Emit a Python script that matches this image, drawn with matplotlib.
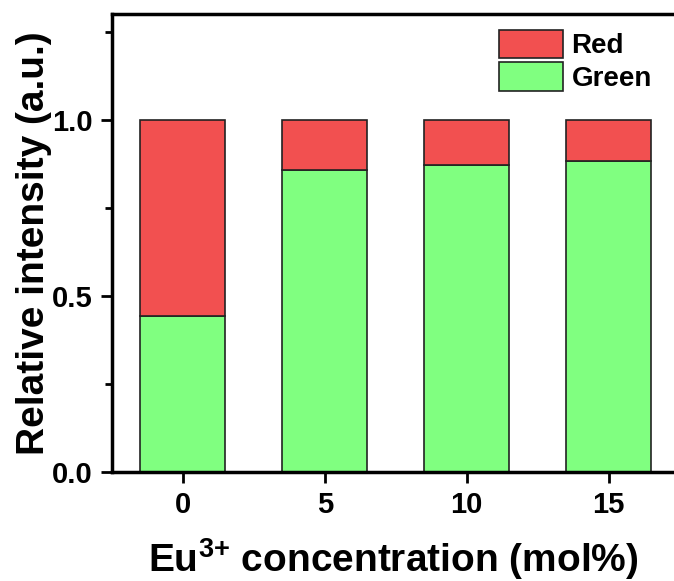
import matplotlib
matplotlib.use("Agg")
import matplotlib.pyplot as plt
from matplotlib.ticker import MultipleLocator

plt.rcParams['font.family'] = ['Liberation Sans', 'DejaVu Sans']
plt.rcParams['font.weight'] = 'bold'
plt.rcParams['mathtext.fontset'] = 'custom'
plt.rcParams['mathtext.rm'] = 'Liberation Sans:bold'
plt.rcParams['mathtext.bf'] = 'Liberation Sans:bold'
plt.rcParams['mathtext.default'] = 'bf'

# datos
concentracion = [0, 5, 10, 15]
etiquetas = ["0", "5", "10", "15"]
verde = [0.442, 0.857, 0.871, 0.883]
rojo = [1 - v for v in verde]

fig = plt.figure(figsize=(6.74, 5.81), dpi=100)
ax = fig.add_axes([0.166, 0.188, 0.834, 0.788])

ax.bar(concentracion, verde, width=3, color="#80FF80", edgecolor="#222222",
       linewidth=1.2, label="Green")
ax.bar(concentracion, rojo, width=3, bottom=verde, color="#F25050",
       edgecolor="#222222", linewidth=1.2, label="Red")

ax.set_xlim(-2.5, 17.3)
ax.set_ylim(0, 1.3)
ax.set_xticks(concentracion)
ax.set_xticklabels(etiquetas)
ax.set_yticks([0, 0.5, 1.0])
ax.set_yticklabels(["0.0", "0.5", "1.0"])
ax.yaxis.set_minor_locator(MultipleLocator(0.25))

for s in ["left", "bottom", "top"]:
    ax.spines[s].set_linewidth(2.5)
ax.spines["right"].set_visible(False)
ax.tick_params(axis="both", which="major", direction="out", length=8, width=2,
               labelsize=21, pad=6)
ax.tick_params(axis="y", which="minor", direction="out", length=5, width=2)

ax.set_xlabel("Eu$^{3{+}}$ concentration (mol%)", fontsize=28,
              fontweight="bold", labelpad=12)
ax.set_ylabel("Relative intensity (a.u.)", fontsize=28, fontweight="bold",
              labelpad=0)

h, l = ax.get_legend_handles_labels()
ax.legend(h[::-1], l[::-1], loc="upper right", frameon=False, fontsize=20,
          handlelength=2.3, handleheight=1.2, handletextpad=0.3,
          labelspacing=0.1, bbox_to_anchor=(1.005, 1.02))

fig.savefig("out.png", dpi=100)
